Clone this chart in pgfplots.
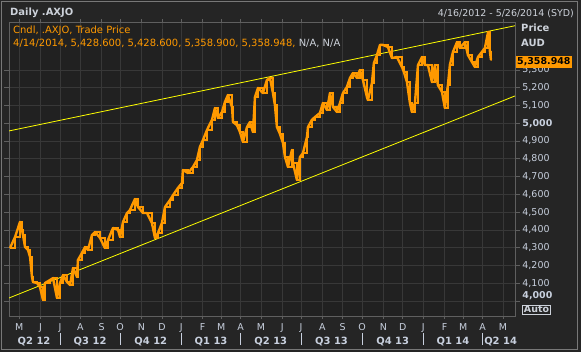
\documentclass[border=0pt]{standalone}
\usepackage{pgfplots}
\pgfplotsset{compat=1.18}
\usepackage{fontspec}
\setmainfont{DejaVu Sans}
\usepackage{pgfplotstable}
\definecolor{outerbg}{RGB}{37,37,37}
\definecolor{plotbg}{RGB}{33,33,33}
\definecolor{gridc}{RGB}{56,56,56}
\definecolor{framec}{RGB}{95,95,95}
\definecolor{lbl}{RGB}{200,208,222}
\definecolor{ttl}{RGB}{205,210,218}
\definecolor{ora}{RGB}{255,153,0}
\definecolor{yel}{RGB}{255,255,0}
\pgfplotstableread{
x y
1.1 4298
6.5 4360
11.9 4445
14.0 4400
15.1 4371
17.3 4304
20.5 4287
22.7 4248
24.8 4135
25.9 4107
30.2 4101
33.4 4079
36.7 4006
38.8 4101
44.2 4118
47.5 4129
51.8 4017
55.0 4101
58.3 4146
62.6 4107
65.8 4090
69.1 4186
73.4 4135
74.4 4231
78.7 4270
82.0 4304
85.2 4287
89.5 4371
92.8 4388
98.2 4355
103.5 4298
106.8 4343
112.2 4411
117.6 4400
119.8 4360
123.0 4445
127.3 4495
130.5 4512
135.9 4574
139.2 4529
144.6 4495
148.9 4495
154.2 4439
157.5 4355
160.8 4383
165.0 4439
168.3 4529
173.7 4568
177.0 4596
182.3 4636
186.6 4664
187.7 4737
193.1 4720
198.5 4754
202.8 4793
206.0 4867
209.3 4906
213.6 4962
219.0 5019
222.2 5086
225.5 5030
229.8 5063
233.0 5120
236.2 5159
240.6 5092
241.7 5007
245.9 4990
249.2 4951
252.4 4895
256.8 4979
260.0 5007
263.2 4951
265.4 5148
268.7 5199
274.0 5170
278.3 5244
281.6 5255
284.8 5170
286.9 5103
289.1 4979
292.4 4940
295.6 4889
297.8 4810
301.0 4754
305.3 4850
306.4 4777
310.7 4681
313.9 4810
317.2 4833
321.5 4923
322.6 4979
326.8 5019
330.1 5035
335.5 5058
338.7 5114
343.1 5075
346.3 5170
349.6 5092
353.8 5064
357.1 5114
360.3 5170
364.6 5204
367.9 5255
371.1 5283
375.5 5255
378.6 5300
381.9 5244
386.2 5148
387.3 5131
391.6 5227
393.7 5339
397.0 5384
400.3 5441
403.5 5441
408.9 5429
413.2 5367
418.6 5373
424.0 5317
426.1 5289
429.4 5232
432.6 5114
434.7 5064
438.0 5114
441.3 5328
445.6 5373
448.8 5328
452.0 5328
456.4 5232
459.5 5328
462.8 5215
467.2 5176
470.3 5086
473.6 5215
475.7 5328
479.0 5401
483.4 5457
486.5 5424
492.0 5457
495.2 5384
499.5 5345
502.7 5317
506.0 5373
510.2 5401
513.5 5424
517.0 5514
519.0 5401
520.0 5359
521.0 5359
}\price
\begin{document}
\begin{tikzpicture}[x=1bp,y=1bp]
\begin{scope}[shift={(-9,-36)}]
\path[use as bounding box, fill=outerbg] (0,0) rectangle (581,352);
\draw[color={rgb,255:red,120;green,120;blue,120}, line width=1bp] (1.5,2.5) rectangle (577.5,350.5);
\node[anchor=base west, inner sep=0pt, font=\bfseries\fontsize{10}{12}\selectfont, text=ttl] at (10,336.7) {Daily .AXJO};
\node[anchor=base east, inner sep=0pt, font=\fontsize{9.5}{12}\selectfont, text=ttl] at (574,335.5) {4/16/2012 - 5/26/2014 (SYD)};
\end{scope}
\begin{axis}[
  scale only axis,
  width=506bp, height=294bp,
  xmin=0, xmax=546, ymin=3915.6, ymax=5570,
  axis background/.style={fill=plotbg},
  axis line style={framec, line width=0.8bp},
  grid=major, major grid style={gridc, line width=0.8bp},
  tick align=outside,
  xtick={11,34,55,77,100,120,143,165,186,209,229,250,272,295,315,338,360,381,404,425,447,470,490,511,533},
  xticklabels={M,J,J,A,S,O,N,D,J,F,M,A,M,J,J,A,S,O,N,D,J,F,M,A,M},
  xtick style={framec, line width=0.8bp, /pgfplots/major tick length=3bp},
  xticklabel style={anchor=base, inner sep=0pt, yshift=-10.3bp, text=lbl, font=\fontsize{9.5}{11}\selectfont},
  ytick={4000,4100,...,5300},
  yticklabels={{\raisebox{5.5bp}{\bfseries 4,000}},{4,100},{4,200},{4,300},{4,400},{4,500},{4,600},{4,700},{4,800},{4,900},{\bfseries 5,000},{5,100},{5,200},{5,300}},
  yticklabel pos=right,
  ytick style={framec, line width=0.8bp, /pgfplots/major tick length=5bp},
  yticklabel style={anchor=base west, inner sep=0pt, xshift=3bp, yshift=-2.9bp, text=lbl, font=\fontsize{9.5}{11}\selectfont},
  clip=true,
]
\addplot[yel, line width=0.8bp] coordinates {(0,4957) (546,5549)};
\addplot[yel, line width=0.8bp] coordinates {(0,4017) (546,5154)};
\addplot[ora, line width=2.4bp, line join=round] table[x=x,y=y] {\price};
\addplot[ora, line width=1.5bp, const plot, line join=miter] table[x=x,y=y] {\price};
\end{axis}
\begin{scope}[shift={(-9,-36)}]
\pgfmathsetmacro{\s}{506/546}
\foreach \q/\c in {Q2 12/27,Q3 12/87.5,Q4 12/153,Q1 13/218,Q2 13/282.5,Q3 13/348,Q4 13/414,Q1 14/479}{
  \node[anchor=base, inner sep=0pt, font=\bfseries\fontsize{10}{12}\selectfont, text=lbl] at ({9+\c*\s},7.7) {\q};
}
\node[anchor=base west, inner sep=0pt, font=\bfseries\fontsize{10}{12}\selectfont, text=lbl] at ({9+511*\s+1.5},7.7) {Q2 14};
\foreach \c in {55,120,186,250,315,381,447,511}{
  \draw[lbl, line width=0.8bp] ({9+\c*\s},7) -- ({9+\c*\s},19);
}
\node[anchor=base west, inner sep=0pt, font=\fontsize{10}{12}\selectfont, text=ora] at (13,318.7) {Cndl, .AXJO, Trade Price};
\node[anchor=base west, inner sep=0pt, font=\fontsize{10}{12}\selectfont] at (13,305.3) {\textcolor{ora}{4/14/2014, 5,428.600, 5,428.600, 5,358.900, 5,358.948,} \textcolor{ttl}{N/A, N/A}};
\node[anchor=base west, inner sep=0pt, font=\bfseries\fontsize{10}{12}\selectfont, text=ttl] at (521,320.3) {Price};
\node[anchor=base west, inner sep=0pt, font=\bfseries\fontsize{10}{12}\selectfont, text=ttl] at (521,305.3) {AUD};
\node[anchor=west, fill=ora, inner xsep=1.5bp, inner ysep=1.5bp, font=\bfseries\fontsize{9.5}{11}\selectfont, text=black] at (515.5,290) {5,358.948};
\node[draw=ttl, line width=0.8bp, inner xsep=1.5bp, inner ysep=1bp, font=\bfseries\fontsize{9.5}{11}\selectfont, text=ttl] at (536.5,42.5) {Auto};
\end{scope}
\end{tikzpicture}
\end{document}
